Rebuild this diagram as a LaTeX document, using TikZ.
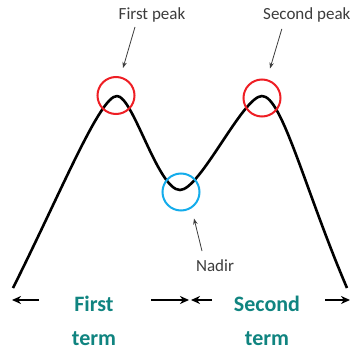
\documentclass[tikz,border=0pt]{standalone}
\usepackage{fontspec}
\setmainfont{Carlito}
\usepackage{xcolor}
\usepackage{tikz}
\usetikzlibrary{arrows.meta,positioning}
\definecolor{peakred}{RGB}{238,30,36}
\definecolor{nadirblue}{RGB}{20,172,235}
\definecolor{termteal}{RGB}{16,132,128}
\definecolor{labelgray}{RGB}{60,60,60}

\begin{document}
\begin{tikzpicture}[
  x=1pt, y=-1pt,
  ring/.style={circle, draw, line width=2pt, minimum size=37pt, inner sep=0pt},
  callout/.style={font=\fontsize{17}{20}\selectfont, text=labelgray, inner sep=0pt, anchor=base},
  termlbl/.style={font=\bfseries\fontsize{22}{26}\selectfont, text=termteal, inner sep=0pt, anchor=base},
  pointer/.style={-{Stealth[length=6pt,width=4.5pt]}, line width=0.8pt, draw=labelgray},
  span/.style={-{Stealth[length=9pt,width=8pt]}, line width=2.8pt}
]
\useasboundingbox (0,0) rectangle (351,351);
% the two-peak curve
\draw[line width=2.6pt, line join=round] (13,288) .. controls (62,190) and (100,96) .. (117,96)
  .. controls (133,96) and (158,190) .. (180,190)
  .. controls (200,190) and (243,96) .. (262,96)
  .. controls (282,96) and (305,190) .. (347,288);
\node[ring, draw=peakred] (peak1) at (116,95.5) {};
\node[ring, draw=peakred] (peak2) at (262,98) {};
\node[ring, draw=nadirblue] (low) at (181,192) {};
\node[callout] (peak1lbl) at (152,19) {First peak};
\node[callout, anchor=base west] (peak2lbl) at (263,19) {Second peak};
\node[callout] (lowlbl) at (215,271) {Nadir};
\draw[pointer] ([xshift=-17pt,yshift=-5pt]peak1lbl.south) -- ([xshift=7pt,yshift=8pt]peak1.north);
\draw[pointer] ([xshift=-25pt,yshift=-7pt]peak2lbl.south) -- ([xshift=8pt,yshift=10pt]peak2.north);
\draw[pointer] ([xshift=-13pt,yshift=8pt]lowlbl.north) -- ([xshift=13pt,yshift=-7pt]low.south);
% terms
\node[termlbl] (first) at (94,311) {First};
\node[termlbl] (firstb) at (94,345) {term};
\node[termlbl] (second) at (267,311) {Second};
\node[termlbl] (secondb) at (267,345) {term};
\coordinate (f1) at (12,300);
\coordinate (f2) at (39,300);
\coordinate (f3) at (151,300);
\coordinate (f4) at (189,300);
\coordinate (s1) at (191,300);
\coordinate (s2) at (212,300);
\coordinate (s3) at (325,300);
\coordinate (s4) at (350,300);
\foreach \a/\b in {f2/f1,f3/f4,s2/s1,s3/s4} \draw[span] (\a) -- (\b);
\end{tikzpicture}
\end{document}
